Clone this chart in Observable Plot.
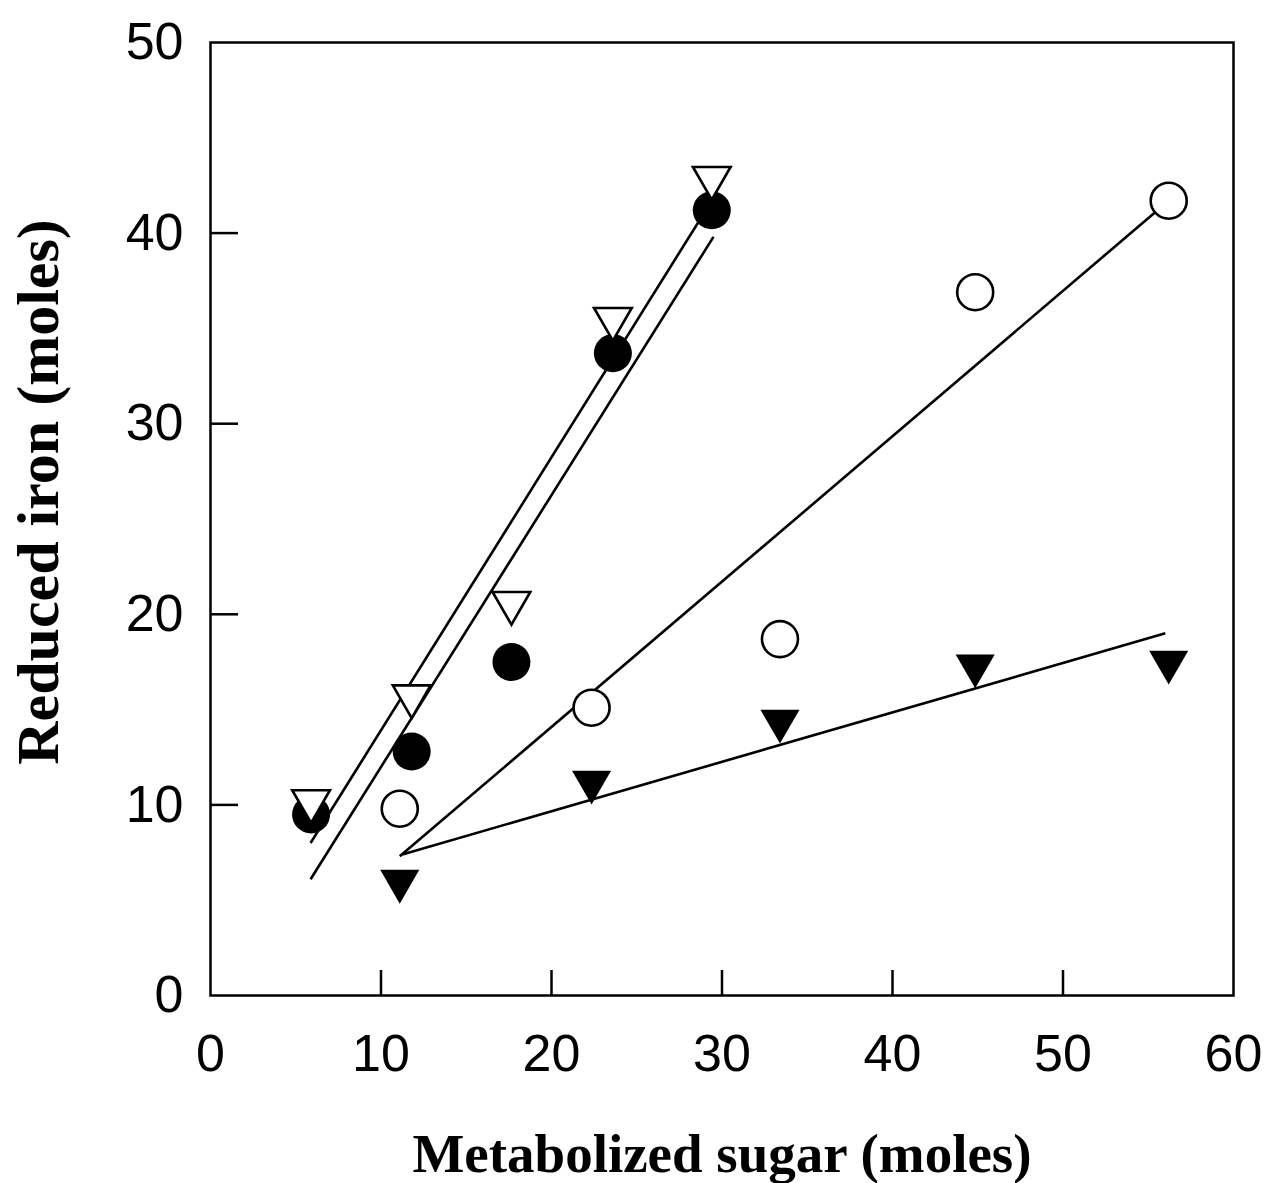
<!DOCTYPE html>
<html>
<head>
<meta charset="utf-8">
<script src="https://cdn.jsdelivr.net/npm/d3@7"></script>
<script src="https://cdn.jsdelivr.net/npm/@observablehq/plot@0.6"></script>
<style>
  html, body { margin: 0; padding: 0; background: #fff; }
  #chart svg { display: block; }
</style>
</head>
<body>
<div id="chart"></div>
<script>
// ---- Data ----
const xTickValues = [0, 10, 20, 30, 40, 50, 60];
const yTickValues = [0, 10, 20, 30, 40, 50];
const xInnerTicks = [10, 20, 30, 40, 50];
const yInnerTicks = [10, 20, 30, 40];

// series 1 & 2 share these sugar values
const sugarA = [5.9, 11.8, 17.65, 23.6, 29.4];
const ironOpenTriangle = [10.2, 15.7, 20.6, 35.5, 42.9];
const ironFilledCircle = [9.5, 12.8, 17.5, 33.7, 41.2];

// series 3 & 4 share these sugar values
const sugarB = [11.1, 22.35, 33.4, 44.85, 56.2];
const ironOpenCircle = [9.8, 15.1, 18.7, 36.9, 41.7];
const ironFilledTriangle = [6.0, 11.2, 14.4, 17.3, 17.5];

// fitted regression lines: start/end in data units
const fitNames = ["openTriangle", "filledCircle", "openCircle", "filledTriangle"];
const fitX1 = [5.87, 5.87, 11.1, 11.25];
const fitY1 = [8.0, 6.1, 7.3, 7.4];
const fitX2 = [29.4, 29.5, 56.2, 56.0];
const fitY2 = [41.7, 39.8, 41.7, 19.0];

const xLabel = "Metabolized sugar (moles)";
const yLabel = "Reduced iron (moles)";

// ---- Build tables ----
const mk = (xs, ys, s) => xs.map((x, i) => ({x, y: ys[i], s}));
const openTri = mk(sugarA, ironOpenTriangle, "openTriangle");
const filledCirc = mk(sugarA, ironFilledCircle, "filledCircle");
const openCirc = mk(sugarB, ironOpenCircle, "openCircle");
const filledTri = mk(sugarB, ironFilledTriangle, "filledTriangle");
const fits = fitNames.map((n, i) => ({n, x1: fitX1[i], y1: fitY1[i], x2: fitX2[i], y2: fitY2[i]}));

const W = 1268, H = 1183;
const mL = 210, mR = 35, mT = 42, mB = 188;
const plotW = W - mL - mR, plotH = H - mT - mB;

const chart = Plot.plot({
  width: W,
  height: H,
  marginLeft: mL,
  marginRight: mR,
  marginTop: mT,
  marginBottom: mB,
  style: {fontFamily: "'Liberation Sans', Arial, Helvetica, sans-serif", fontSize: "52px", color: "black", background: "white"},
  x: {domain: [0, 60], ticks: xTickValues, tickSize: 0, tickPadding: 39, label: null, tickFormat: d => String(d)},
  y: {domain: [0, 50], ticks: yTickValues, tickSize: 0, tickPadding: 27, label: null, tickFormat: d => String(d)},
  marks: [
    Plot.frame({stroke: "black", strokeWidth: 2.5}),
    Plot.ruleX(xInnerTicks, {x: d => d, insetTop: plotH - 25, stroke: "black", strokeWidth: 2.5}),
    Plot.ruleY(yInnerTicks, {y: d => d, insetRight: plotW - 28, stroke: "black", strokeWidth: 2.5}),
    Plot.link(fits, {x1: "x1", y1: "y1", x2: "x2", y2: "y2", stroke: "black", strokeWidth: 2.6}),
    Plot.dot(filledCirc, {x: "x", y: "y", symbol: "circle", r: 19, fill: "black", stroke: "none"}),
    Plot.dot(openCirc, {x: "x", y: "y", symbol: "circle", r: 18, fill: "white", stroke: "black", strokeWidth: 2.6}),
    Plot.dot(filledTri, {x: "x", y: "y", symbol: "triangle", rotate: 180, r: 14.5, fill: "black", stroke: "none"}),
    Plot.dot(openTri, {x: "x", y: "y", symbol: "triangle", rotate: 180, r: 14, fill: "white", stroke: "black", strokeWidth: 2.6}),
    Plot.text([xLabel], {text: d => d, frameAnchor: "bottom", dy: 159, lineAnchor: "middle", textAnchor: "middle",
      fontFamily: "'Liberation Serif', 'Times New Roman', serif", fontWeight: "bold", fontSize: 55, fill: "black"}),
    Plot.text([yLabel], {text: d => d, frameAnchor: "left", dx: -172, dy: -27, rotate: -90, lineAnchor: "middle", textAnchor: "middle",
      fontFamily: "'Liberation Serif', 'Times New Roman', serif", fontWeight: "bold", fontSize: 60, fill: "black"})
  ]
});
document.getElementById("chart").appendChild(chart);
</script>
</body>
</html>
